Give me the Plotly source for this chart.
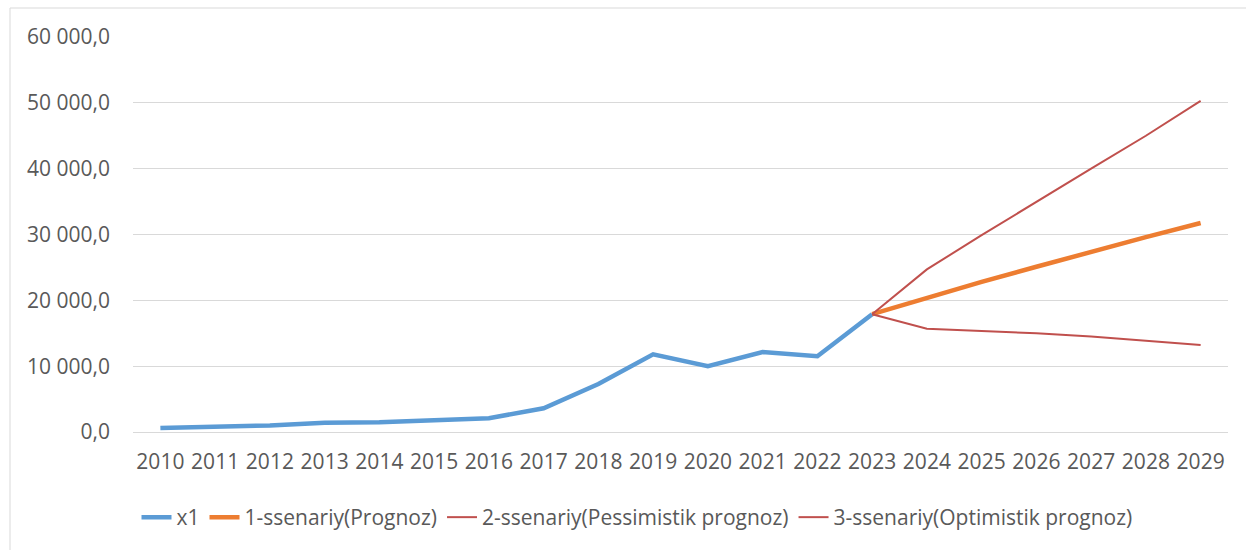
import plotly.graph_objects as go

years = [str(y) for y in range(2010, 2030)]
x1_years = years[:14]
x1_values = [600, 800, 1000, 1400, 1500, 1800, 2100, 3600, 7300, 11800, 10000, 12150, 11500, 17900]

fc_years = years[13:]
prognoz = [17900, 20400, 22800, 25100, 27400, 29600, 31750]
pessimistic = [17900, 15700, 15350, 15000, 14500, 13900, 13200]
optimistic = [17900, 24700, 29900, 35000, 40000, 45000, 50300]

font_family = "'Open Sans', sans-serif"
W, H = 1246, 550
L, R, T, B = 133, 18, 37, 118
pw, ph = W - L - R, H - T - B

fig = go.Figure()
fig.add_trace(go.Scatter(x=x1_years, y=x1_values, mode="lines", name="x1",
                         line=dict(color="#5B9BD5", width=4.5)))
fig.add_trace(go.Scatter(x=fc_years, y=prognoz, mode="lines", name="1-ssenariy(Prognoz)",
                         line=dict(color="#ED7D31", width=4.5)))
fig.add_trace(go.Scatter(x=fc_years, y=pessimistic, mode="lines", name="2-ssenariy(Pessimistik prognoz)",
                         line=dict(color="#C0504D", width=2)))
fig.add_trace(go.Scatter(x=fc_years, y=optimistic, mode="lines", name="3-ssenariy(Optimistik prognoz)",
                         line=dict(color="#C0504D", width=2)))

fig.update_layout(
    width=W, height=H,
    margin=dict(l=L, r=R, t=T, b=B),
    paper_bgcolor="white", plot_bgcolor="white",
    separators=", ",
    font=dict(family=font_family, size=21, color="#595959"),
    showlegend=True,
    legend=dict(orientation="h", x=(637 - L) / pw, xanchor="center", y=-(497 - 432) / ph, yanchor="top",
                font=dict(size=21, color="#595959"), traceorder="normal"),
    shapes=[dict(type="rect", xref="paper", yref="paper",
                 x0=-(L - 10) / pw, x1=1 + (R + 10) / pw, y0=-(B + 10) / ph, y1=1 + (T - 8) / ph,
                 line=dict(color="#D9D9D9", width=1), fillcolor="rgba(0,0,0,0)")],
)
fig.update_xaxes(type="category", categoryorder="array", categoryarray=years,
                 range=[-0.5, 19.5], showgrid=False, showline=True,
                 linecolor="#D9D9D9", linewidth=1, ticks="", ticklabelstandoff=11,
                 tickfont=dict(size=21, color="#595959"))
fig.update_yaxes(range=[0, 60000], dtick=10000, tickformat=",.1f",
                 showgrid=True, gridcolor="#D9D9D9", gridwidth=1, zeroline=False,
                 showline=False, ticks="", ticklabelstandoff=22,
                 tickfont=dict(size=21, color="#595959"))

fig.write_html("out.html", config={"displayModeBar": False},
               post_script="document.body.style.margin='0';")
